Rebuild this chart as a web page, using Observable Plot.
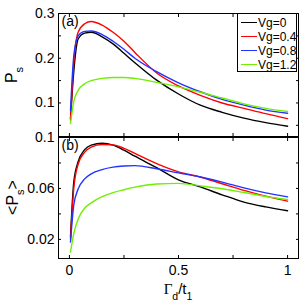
<!DOCTYPE html>
<html><head><meta charset="utf-8">
<script src="https://cdn.jsdelivr.net/npm/d3@7"></script>
<script src="https://cdn.jsdelivr.net/npm/@observablehq/plot@0.6"></script>
<style>
body{margin:0;background:#fff;}
#wrap{position:relative;width:303px;height:307px;font-family:"Liberation Sans",Arial,sans-serif;}
#wrap svg{position:absolute;left:0;overflow:visible;}
#legend{position:absolute;left:237px;top:13px;width:58px;height:57px;border:1px solid #000;background:#fff;font-size:12px;}
#legend .row{position:absolute;left:0;height:14px;line-height:14px;}
#legend .sw{position:absolute;left:3px;top:6px;width:16px;height:0;border-top:1.8px solid;}
#legend .tx{position:absolute;left:20px;top:0;white-space:nowrap;}
</style></head><body><div id="wrap"><div id="legend"></div></div>
<script>
// shared x grid (Γd/t1)
const xs = [0.005, 0.02, 0.04, 0.07, 0.1, 0.15, 0.2, 0.25, 0.3, 0.4, 0.5, 0.6, 0.7, 0.8, 0.9, 1.0];
const seriesNames = ["Vg=0", "Vg=0.4", "Vg=0.8", "Vg=1.2"];
const seriesColors = ["#000000", "#ff0000", "#2233ff", "#6ef000"];

// panel (a): Ps
const psVg0  = [0.065, 0.170, 0.243, 0.256, 0.258, 0.248, 0.232, 0.211, 0.190, 0.151, 0.120, 0.095, 0.079, 0.066, 0.056, 0.048];
const psVg04 = [0.062, 0.190, 0.258, 0.277, 0.282, 0.274, 0.258, 0.238, 0.213, 0.167, 0.138, 0.117, 0.100, 0.088, 0.076, 0.065];
const psVg08 = [0.083, 0.205, 0.250, 0.260, 0.261, 0.253, 0.238, 0.220, 0.200, 0.170, 0.145, 0.125, 0.108, 0.095, 0.084, 0.077];
const psVg12 = [0.054, 0.103, 0.128, 0.143, 0.150, 0.155, 0.157, 0.157, 0.155, 0.146, 0.136, 0.124, 0.111, 0.098, 0.088, 0.081];

// panel (b): <Ps>
const avgVg0  = [0.022, 0.065, 0.081, 0.0905, 0.094, 0.0955, 0.094, 0.090, 0.0853, 0.0763, 0.0668, 0.0612, 0.055, 0.0493, 0.0455, 0.0425];
const avgVg04 = [0.020, 0.060, 0.079, 0.0885, 0.0925, 0.0945, 0.0942, 0.0915, 0.0875, 0.0795, 0.073, 0.069, 0.0637, 0.0585, 0.054, 0.050];
const avgVg08 = [0.018, 0.047, 0.0595, 0.0675, 0.0715, 0.0748, 0.0767, 0.0776, 0.0779, 0.0755, 0.0722, 0.069, 0.065, 0.0604, 0.0565, 0.0534];
const avgVg12 = [0.010, 0.0245, 0.036, 0.0445, 0.0487, 0.0535, 0.0567, 0.059, 0.061, 0.0635, 0.064, 0.062, 0.0598, 0.0568, 0.0537, 0.0513];

// ticks
const xTicks = [0, 0.25, 0.5, 0.75, 1];
const xTickLabels = [0, 0.5, 1];
const yTicksA = [0.05, 0.1, 0.15, 0.2, 0.25, 0.3];
const yTickLabelsA = [0.1, 0.2, 0.3];
const yTicksB = [0.02, 0.04, 0.06, 0.08, 0.1];
const yTickLabelsB = [0.02, 0.06, 0.1];

function rows(list) {
  const out = [];
  list.forEach((vals, s) => vals.forEach((v, i) => out.push({x: xs[i], y: v, series: seriesNames[s]})));
  return out;
}
const fmt = d => String(d);
const font = "Liberation Sans, Arial, sans-serif";

function panel({data, yDomain, yTicks, yLabels, height, marginTop, marginBottom, letter, xLabels}) {
  const marks = [
    Plot.line(data, {x: "x", y: "y", stroke: "series", curve: "monotone-x", strokeWidth: 1.4}),
    Plot.frame({stroke: "#000", strokeWidth: 1}),
    Plot.axisY({ticks: yLabels, anchor: "left", tickSize: 0, tickPadding: 4, tickFormat: fmt, fontSize: 14, label: null}),
    Plot.axisY({ticks: yTicks, anchor: "left", tickSize: -3, tickFormat: () => "", label: null}),
    Plot.axisY({ticks: yTicks, anchor: "right", tickSize: -3, tickFormat: () => "", label: null}),
    Plot.axisX({ticks: xTicks, anchor: "bottom", tickSize: -3, tickFormat: () => "", label: null}),
    Plot.axisX({ticks: xTicks, anchor: "top", tickSize: -3, tickFormat: () => "", label: null}),
    Plot.text([letter], {text: d => d, frameAnchor: "top-left", dx: 3, dy: 3, textAnchor: "start", lineAnchor: "top", fontSize: 14})
  ];
  if (xLabels) marks.push(Plot.axisX({ticks: xLabels, anchor: "bottom", tickSize: 0, tickPadding: 7, tickFormat: fmt, fontSize: 14, label: null}));
  return Plot.plot({
    width: 303, height, marginLeft: 58, marginRight: 5, marginTop, marginBottom,
    style: {fontFamily: font, fontSize: "14px", background: "transparent", color: "#000"},
    x: {domain: [-0.05, 1.05]},
    y: {domain: yDomain},
    color: {domain: seriesNames, range: seriesColors},
    marks
  });
}

const wrap = document.getElementById("wrap");
const top1 = panel({data: rows([psVg0, psVg04, psVg08, psVg12]), yDomain: [0.025, 0.3], yTicks: yTicksA, yLabels: yTickLabelsA,
  height: 137, marginTop: 13, marginBottom: 1, letter: "(a)"});
top1.style.top = "0px";
const bot = panel({data: rows([avgVg0, avgVg04, avgVg08, avgVg12]), yDomain: [0.005, 0.1], yTicks: yTicksB, yLabels: yTickLabelsB,
  height: 171, marginTop: 1, marginBottom: 49, letter: "(b)", xLabels: xTickLabels});
bot.style.top = "136px";
wrap.insertBefore(top1, wrap.firstChild);
wrap.insertBefore(bot, document.getElementById("legend"));

// y-axis titles
function yTitle(svg, x, y, parts) {
  const t = d3.select(svg).append("text")
    .attr("transform", `translate(${x},${y}) rotate(-90)`)
    .attr("text-anchor", "middle").attr("font-family", font).attr("font-size", 16).attr("fill", "#000");
  parts.forEach(([s, sub]) => {
    const ts = t.append("tspan").text(s);
    if (sub) ts.attr("font-size", 11).attr("baseline-shift", "sub");
  });
}
yTitle(top1, 17, 75, [["P"], ["s", true]]);
yTitle(bot, 18, 61.5, [["<P"], ["s", true], [">"]]);

// x-axis title Γd/t1
const xt = d3.select(bot).append("text").attr("x", 178).attr("y", 158).attr("text-anchor", "middle")
  .attr("font-family", font).attr("font-size", 15).attr("fill", "#000");
xt.append("tspan").text("Γ").attr("font-family", "Liberation Serif, serif");
xt.append("tspan").text("d").attr("font-size", 10.5).attr("baseline-shift", "sub");
xt.append("tspan").text("/t");
xt.append("tspan").text("1").attr("font-size", 10.5).attr("baseline-shift", "sub");

// legend
const legend = d3.select("#legend");
seriesNames.forEach((name, i) => {
  const r = legend.append("div").attr("class", "row").style("top", (2 + i * 14) + "px");
  r.append("div").attr("class", "sw").style("border-color", seriesColors[i]);
  r.append("div").attr("class", "tx").text(name);
});
</script></body></html>
